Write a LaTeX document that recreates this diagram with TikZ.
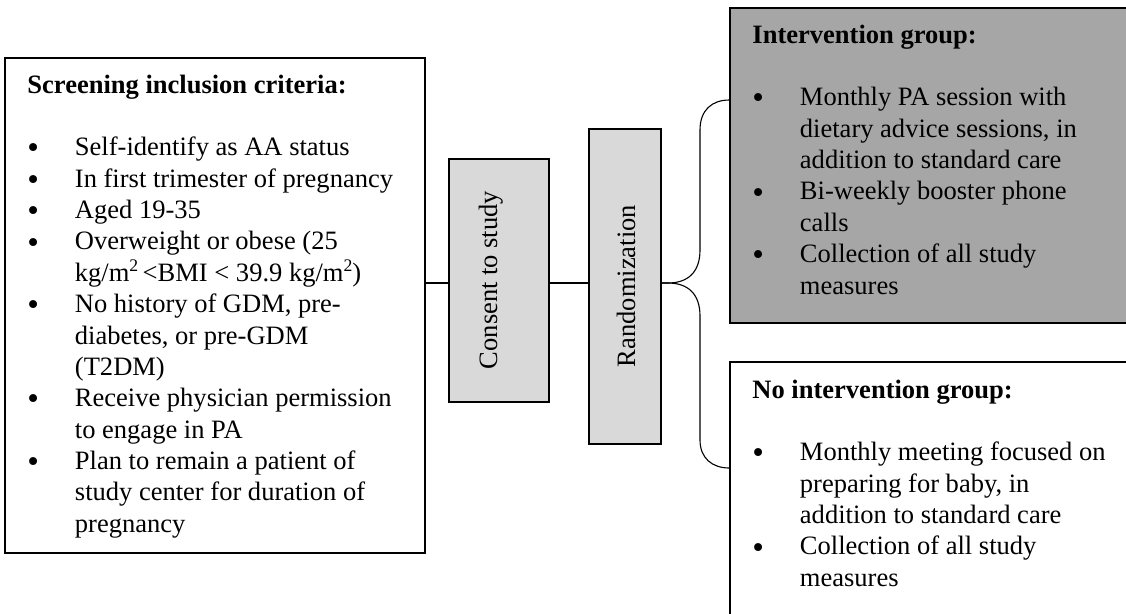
\documentclass[tikz,border=0pt]{standalone}
\usepackage{fontspec}
\setmainfont{Liberation Serif}
\usetikzlibrary{fit}
\definecolor{lightg}{HTML}{D9D9D9}
\definecolor{darkg}{HTML}{A6A6A6}
\newcommand{\bigdot}{\raisebox{-1.4pt}{\fontsize{15}{14}\selectfont\textbullet}}
\newcommand{\bitem}[1]{\makebox[21.5pt][l]{\bigdot}#1}
\newcommand{\citem}[1]{\hspace*{21.5pt}#1}
\newcommand{\sqr}{\raisebox{4.6pt}{\fontsize{8}{8}\selectfont 2}}
\begin{document}
\begin{tikzpicture}[x=0.4525pt,y=-0.4525pt,
  box/.style={draw, line width=0.6pt, inner sep=0pt},
  conn/.style={line width=0.5pt},
  txt/.style={anchor=base west, inner sep=0pt, font=\fontsize{12}{14.2}\selectfont},
  vtxt/.style={rotate=90, anchor=base, inner sep=0pt, font=\fontsize{12}{14.2}\selectfont}]
\useasboundingbox (0,0) rectangle (1126,613);
\clip (0,0) rectangle (1126,613);
% boxes
\node[box, fit={(5,58)(425,553)}] (left) {};
\node[box, fill=lightg, fit={(449,159)(549,402)}] (consent) {};
\node[box, fill=lightg, fit={(589,129)(661,444)}] (rand) {};
\node[box, fill=darkg, fit={(730,8)(1140,323)}] (inter) {};
\node[box, fit={(730,362)(1140,630)}] (nointer) {};
% texts
\node[txt] (ltext) at (27,93) {\begin{tabular}[t]{@{}l@{}}
\textbf{Screening inclusion criteria:}\\
\\
\bitem{Self-identify as AA status}\\
\bitem{In first trimester of pregnancy}\\
\bitem{Aged 19-35}\\
\bitem{Overweight or obese (25}\\
\citem{kg/m\sqr\,<BMI < 39.9 kg/m\sqr)}\\
\bitem{No history of GDM, pre-}\\
\citem{diabetes, or pre-GDM}\\
\citem{(T2DM)}\\
\bitem{Receive physician permission}\\
\citem{to engage in PA}\\
\bitem{Plan to remain a patient of}\\
\citem{study center for duration of}\\
\citem{pregnancy}
\end{tabular}};
\node[vtxt] (ctext) at (497,280) {Consent to study};
\node[vtxt] (rtext) at (635,286) {Randomization};
\node[txt] (itext) at (752,43) {\begin{tabular}[t]{@{}l@{}}
\textbf{Intervention group:}\\
\\
\bitem{Monthly PA session with}\\
\citem{dietary advice sessions, in}\\
\citem{addition to standard care}\\
\bitem{Bi-weekly booster phone}\\
\citem{calls}\\
\bitem{Collection of all study}\\
\citem{measures}
\end{tabular}};
\node[txt] (ntext) at (752,398) {\begin{tabular}[t]{@{}l@{}}
\textbf{No intervention group:}\\
\\
\bitem{Monthly meeting focused on}\\
\citem{preparing for baby, in}\\
\citem{addition to standard care}\\
\bitem{Collection of all study}\\
\citem{measures}
\end{tabular}};
% connectors
\coordinate (mid) at (0,283);
\coordinate (ty) at (0,100);
\coordinate (by) at (0,468);
\coordinate (itop) at (inter.west |- ty);
\coordinate (ibot) at (nointer.west |- by);
\draw[conn] (left.east |- mid) -- (consent.west |- mid);
\draw[conn] (consent.east |- mid) -- (rand.west |- mid);
\draw[conn] (rand.east |- mid) -- (668,283) .. controls (688,283) and (700,272) .. (700,250) -- (700,130) .. controls (700,110) and (712,100) .. (itop);
\draw[conn] (rand.east |- mid) -- (668,283) .. controls (688,283) and (700,294) .. (700,316) -- (700,440) .. controls (700,458) and (712,468) .. (ibot);
\end{tikzpicture}
\end{document}
